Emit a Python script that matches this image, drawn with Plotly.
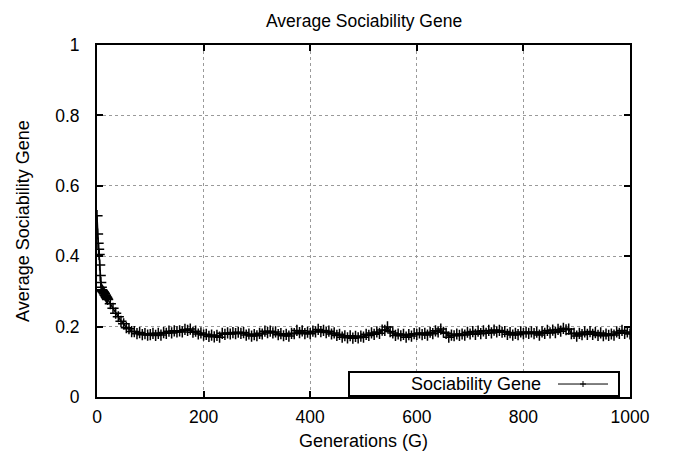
import plotly.graph_objects as go

# Generations sampled (every generation at the start, then every 5)
generations = list(range(0, 21)) + list(range(25, 1001, 5))

early_values = [0.515, 0.463, 0.437, 0.420, 0.405, 0.375, 0.345, 0.325, 0.312, 0.305,
                0.302, 0.300, 0.298, 0.296, 0.293, 0.290, 0.288, 0.285, 0.283, 0.280, 0.277]
decline_values = [0.265, 0.252, 0.238, 0.228, 0.215, 0.208, 0.197, 0.194, 0.186, 0.186,
                  0.180, 0.183, 0.177, 0.180, 0.176]
steady_values = [
    0.177, 0.181, 0.175, 0.181, 0.176, 0.183, 0.181, 0.187, 0.182, 0.188,
    0.185, 0.188, 0.185, 0.192, 0.189, 0.193, 0.184, 0.187, 0.179, 0.182,
    0.176, 0.178, 0.172, 0.176, 0.171, 0.175, 0.170, 0.181, 0.178, 0.182,
    0.179, 0.183, 0.180, 0.184, 0.181, 0.183, 0.176, 0.179, 0.173, 0.177,
    0.174, 0.181, 0.179, 0.187, 0.183, 0.187, 0.182, 0.185, 0.177, 0.180,
    0.174, 0.178, 0.173, 0.181, 0.180, 0.189, 0.183, 0.188, 0.180, 0.184,
    0.180, 0.187, 0.185, 0.192, 0.186, 0.189, 0.183, 0.187, 0.179, 0.182,
    0.175, 0.178, 0.170, 0.174, 0.168, 0.174, 0.167, 0.172, 0.168, 0.173,
    0.170, 0.178, 0.175, 0.182, 0.178, 0.185, 0.181, 0.190, 0.189, 0.199,
    0.186, 0.182, 0.175, 0.179, 0.174, 0.178, 0.170, 0.177, 0.173, 0.180,
    0.178, 0.182, 0.177, 0.181, 0.176, 0.184, 0.180, 0.188, 0.185, 0.193,
    0.184, 0.181, 0.170, 0.176, 0.174, 0.179, 0.175, 0.179, 0.176, 0.184,
    0.179, 0.186, 0.178, 0.187, 0.180, 0.188, 0.181, 0.189, 0.182, 0.190,
    0.185, 0.189, 0.184, 0.186, 0.178, 0.183, 0.176, 0.181, 0.177, 0.185,
    0.180, 0.184, 0.181, 0.185, 0.180, 0.184, 0.176, 0.185, 0.181, 0.189,
    0.182, 0.190, 0.183, 0.192, 0.187, 0.195, 0.191, 0.193, 0.180, 0.181,
    0.173, 0.181, 0.177, 0.185, 0.178, 0.186, 0.178, 0.183, 0.175, 0.182,
    0.174, 0.179, 0.175, 0.179, 0.176, 0.185, 0.181, 0.189, 0.181, 0.185,
    0.179,
]
sociability = early_values + decline_values + steady_values

x_ticks = [0, 200, 400, 600, 800, 1000]
y_ticks = [0, 0.2, 0.4, 0.6, 0.8, 1]
y_tick_labels = ["0", "0.2", "0.4", "0.6", "0.8", "1"]

FONT = "Liberation Sans, Arial, sans-serif"
FS = 17.5
FS_LABEL = 18

fig = go.Figure()
fig.add_trace(go.Scatter(
    x=generations, y=sociability, mode="lines+markers",
    line=dict(color="black", width=1.5),
    marker=dict(symbol="cross-thin-open", size=8, line=dict(color="black", width=1.5)),
    showlegend=False,
))

axis_common = dict(
    showline=True, linecolor="black", linewidth=2, mirror="ticks",
    ticks="inside", ticklen=6, tickwidth=1.5, tickcolor="black",
    showgrid=True, gridcolor="#9a9a9a", griddash="dot", gridwidth=1,
    zeroline=False, tickfont=dict(family=FONT, size=FS, color="black"),
)

fig.update_xaxes(range=[0, 1000], tickvals=x_ticks, ticklabelstandoff=3, **axis_common)
fig.update_yaxes(range=[0, 1], tickvals=y_ticks, ticktext=y_tick_labels,
                 ticklabelstandoff=12, **axis_common)

# plot area: x 97..630, y 44.5..397
L, R, T, B = 97, 630, 44.5, 397
W, H = R - L, B - T
def px(x):
    return (x - L) / W
def py(y):
    return (B - y) / H

annotations = [
    dict(text="Average Sociability Gene", x=0.5, y=py(20), xref="paper", yref="paper",
         showarrow=False, font=dict(family=FONT, size=FS, color="black"), yanchor="middle"),
    dict(text="Generations (G)", x=0.5, y=py(441), xref="paper", yref="paper",
         showarrow=False, font=dict(family=FONT, size=FS_LABEL, color="black"), yanchor="middle"),
    dict(text="Average Sociability Gene", x=px(23), y=0.5, xref="paper", yref="paper",
         showarrow=False, textangle=-90, font=dict(family=FONT, size=FS_LABEL, color="black"),
         xanchor="center", yanchor="middle"),
    dict(text="Sociability Gene", x=px(543), y=py(384), xref="paper", yref="paper",
         showarrow=False, xanchor="right", yanchor="middle",
         font=dict(family=FONT, size=FS_LABEL, color="black")),
]

shapes = [
    dict(type="rect", xref="paper", yref="paper", x0=px(349), x1=px(619),
         y0=py(396), y1=py(372), line=dict(color="black", width=2), fillcolor="white",
         layer="above"),
    dict(type="line", xref="paper", yref="paper", x0=px(558), x1=px(608),
         y0=py(384), y1=py(384), line=dict(color="black", width=1)),
    dict(type="line", xref="paper", yref="paper", x0=px(580), x1=px(586),
         y0=py(384), y1=py(384), line=dict(color="black", width=1)),
    dict(type="line", xref="paper", yref="paper", x0=px(583), x1=px(583),
         y0=py(381), y1=py(387), line=dict(color="black", width=1)),
]

fig.update_layout(
    width=675, height=452,
    margin=dict(l=L, r=675 - R, t=T, b=452 - B),
    paper_bgcolor="white", plot_bgcolor="white",
    annotations=annotations, shapes=shapes,
    font=dict(family=FONT, size=FS, color="black"),
)

fig.write_html("out.html")
